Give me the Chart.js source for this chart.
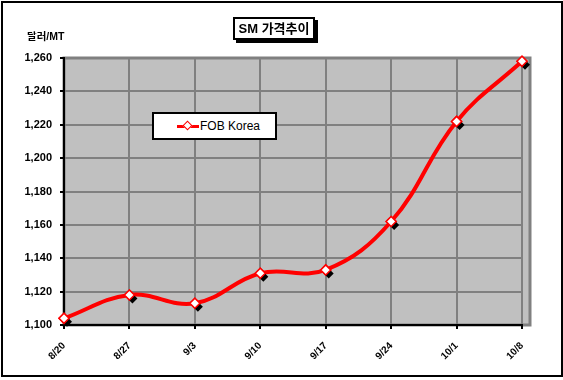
<!DOCTYPE html>
<html>
<head>
<meta charset="utf-8">
<script src="https://cdn.jsdelivr.net/npm/chart.js"></script>
<style>
  html, body { margin:0; padding:0; background:#fff; }
  #wrap { position:relative; width:563px; height:380px; }
  #frame { position:absolute; left:1px; top:1px; width:558px; height:372px; border:2px solid #000; pointer-events:none; }
  #title { position:absolute; left:233px; top:17px; width:78px; height:19px; border:2px solid #000; background:#fff;
    box-shadow:3px 3px 0 #000; font:bold 13px "Liberation Sans","Noto Sans CJK KR",sans-serif; text-align:center; line-height:19px; }
  #ytitle { position:absolute; left:27px; top:28px; font:bold 10.5px "Liberation Sans","Noto Sans CJK KR",sans-serif; }
  #legend { position:absolute; left:152px; top:112px; width:121px; height:24px; border:2px solid #000; background:#fff;
    font:12px "Liberation Sans",Arial,sans-serif; display:flex; align-items:center; }
  #legend .sample { position:relative; width:22px; height:3px; background:#f00; margin-left:23px; margin-right:1px; }
  #legend .sample i { position:absolute; left:7px; top:-3px; width:5px; height:5px; background:#fff; border:1px solid #f00; transform:rotate(45deg); }
</style>
</head>
<body>
<div id="wrap">
  <canvas id="c" width="563" height="380"></canvas>
  <div id="frame"></div>
  <div id="title">SM 가격추이</div>
  <div id="ytitle">달러/MT</div>
  <div id="legend"></div>
</div>
<script>
// 데이터
const dates = ['8/20', '8/27', '9/3', '9/10', '9/17', '9/24', '10/1', '10/8'];
const fobKorea = [1104, 1118, 1113, 1131, 1133, 1162, 1222, 1258];
const seriesName = 'FOB Korea';
const yMin = 1100, yMax = 1260, yStep = 20;

// 그림자 있는 마커 + 회색 플롯 영역
const plotBg = {
  id: 'plotBg',
  beforeDraw(chart) {
    const { ctx, chartArea: a } = chart;
    ctx.save();
    ctx.fillStyle = '#c0c0c0';
    ctx.fillRect(a.left, a.top, a.right - a.left + 8, a.bottom - a.top);
    ctx.strokeStyle = '#808080';
    ctx.lineWidth = 3;
    ctx.strokeRect(a.left, a.top, a.right - a.left + 8, a.bottom - a.top);
    ctx.restore();
  },
  afterDatasetsDraw(chart) {
    const { ctx } = chart;
    const meta = chart.getDatasetMeta(0);
    ctx.save();
    meta.data.forEach(pt => {
      const x = pt.x + 3, y = pt.y + 3.5, r = 5;
      ctx.fillStyle = '#000';
      ctx.beginPath();
      ctx.moveTo(x, y - r); ctx.lineTo(x + r, y); ctx.lineTo(x, y + r); ctx.lineTo(x - r, y);
      ctx.closePath();
      ctx.fill();
    });
    ctx.restore();
    meta.data.forEach(pt => pt.draw(ctx, chart.chartArea));
  }
};

const chart = new Chart(document.getElementById('c'), {
  type: 'line',
  data: {
    labels: dates,
    datasets: [{
      label: seriesName,
      data: fobKorea,
      borderColor: '#ff0000',
      borderWidth: 4,
      tension: 0.4,
      pointStyle: 'rectRot',
      pointRadius: 5,
      pointBackgroundColor: '#ffffff',
      pointBorderColor: '#ff0000',
      pointBorderWidth: 1.5,
      clip: false
    }]
  },
  options: {
    responsive: false,
    animation: false,
    events: [],
    layout: { padding: { left: 0, top: 58, right: 41, bottom: 0 } },
    plugins: { legend: { display: false }, tooltip: { enabled: false }, title: { display: false } },
    scales: {
      x: {
        offset: false,
        afterFit: s => { s.height = 55; },
        grid: { color: '#808080', lineWidth: 2, tickColor: '#000', tickLength: 4 },
        border: { color: '#000', width: 2 },
        ticks: {
          color: '#000', font: { family: 'Liberation Sans', size: 10, weight: 'bold' },
          maxRotation: 45, minRotation: 45, padding: 11
        }
      },
      y: {
        min: yMin, max: yMax,
        afterFit: s => { s.width = 64; },
        grid: { color: '#808080', lineWidth: 2, tickColor: '#000', tickLength: 4 },
        border: { color: '#000', width: 2 },
        ticks: {
          stepSize: yStep, color: '#000', padding: 8,
          font: { family: 'Liberation Sans', size: 11, weight: 'bold' },
          callback: v => v.toLocaleString('en-US')
        }
      }
    }
  },
  plugins: [plotBg]
});

// 범례
const ds = chart.data.datasets[0];
document.getElementById('legend').innerHTML = '<span class="sample"><i></i></span><span>' + ds.label + '</span>';
</script>
</body>
</html>
